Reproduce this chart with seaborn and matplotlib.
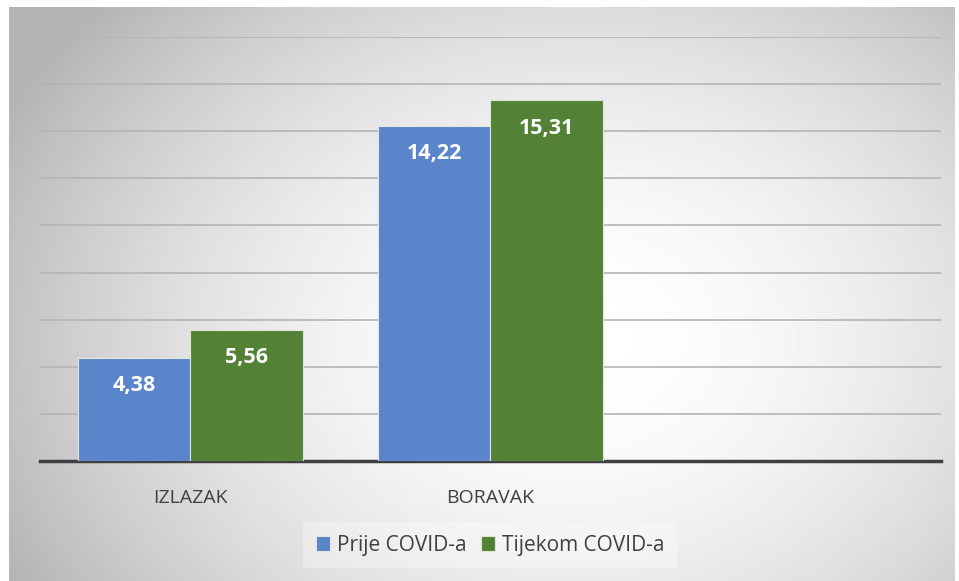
import numpy as np
import pandas as pd
import matplotlib
matplotlib.use('Agg')
import matplotlib.pyplot as plt
import seaborn as sns

kategorije = ['IZLAZAK', 'BORAVAK']
serije = ['Prije COVID-a', 'Tijekom COVID-a']
prije = [4.38, 14.22]
tijekom = [5.56, 15.31]
oznake = [['4,38', '14,22'], ['5,56', '15,31']]

df = pd.DataFrame({
    'kategorija': kategorije * 2,
    'serija': [serije[0]] * 2 + [serije[1]] * 2,
    'vrijednost': prije + tijekom,
})

sns.set_style('white')
plt.rcParams['font.family'] = ['Open Sans', 'DejaVu Sans']

fig = plt.figure(figsize=(9.59, 5.81), dpi=100)

# radijalna pozadina kao u Excelu
bg = fig.add_axes([9 / 959, 0, 946 / 959, 574 / 581], zorder=0)
yy, xx = np.mgrid[0:1:300j, 0:1:500j]
d = np.sqrt(((xx - 0.6) / 0.62) ** 2 + ((yy - 0.58) / 0.8) ** 2)
siva = 1 - 0.25 * np.clip(d, 0, 1.1) ** 1.8
bg.imshow(siva, cmap='gray', vmin=0, vmax=1, aspect='auto', extent=[0, 1, 0, 1])
bg.set_axis_off()

ax = fig.add_axes([40 / 959, 1 - 461 / 581, 901 / 959, 424 / 581], zorder=1)
ax.patch.set_alpha(0)

boje = {'Prije COVID-a': '#5B85CB', 'Tijekom COVID-a': '#538135'}
sns.barplot(data=df, x='kategorija', y='vrijednost', hue='serija', order=kategorije,
            palette=boje, saturation=1, width=0.75, edgecolor='#dfe7da', linewidth=0.8,
            ax=ax, zorder=3)

ax.set_xlim(-0.5, 2.5)
ax.set_ylim(0, 18)
ax.set_yticks(np.arange(2, 19, 2))
ax.yaxis.grid(True, color='#b4b4b4', linewidth=1.2, zorder=0)
ax.set_yticklabels([])
ax.tick_params(axis='y', length=0)
ax.tick_params(axis='x', length=0, pad=20, labelsize=14, labelcolor='#404040')
for s in ['top', 'right', 'left']:
    ax.spines[s].set_visible(False)
ax.spines['bottom'].set_color('#404040')
ax.spines['bottom'].set_linewidth(2.5)
ax.set_xlabel('')
ax.set_ylabel('')

for cont, lab in zip(ax.containers, oznake):
    for bar, t in zip(cont, lab):
        ax.annotate(t, (bar.get_x() + bar.get_width() / 2, bar.get_height()),
                    xytext=(0, -20), textcoords='offset points', ha='center', va='center',
                    color='white', fontsize=15.5, fontweight='bold', zorder=5)

ax.legend(loc='center', bbox_to_anchor=(490 / 959, 36 / 581), bbox_transform=fig.transFigure,
          ncol=2, frameon=True, facecolor='white', framealpha=0.3, edgecolor='none',
          fontsize=15, labelcolor='#404040', handlelength=0.7, handleheight=0.7,
          handletextpad=0.3, columnspacing=0.7, fancybox=False, borderpad=0.6)

fig.savefig('out.png', dpi=100)
